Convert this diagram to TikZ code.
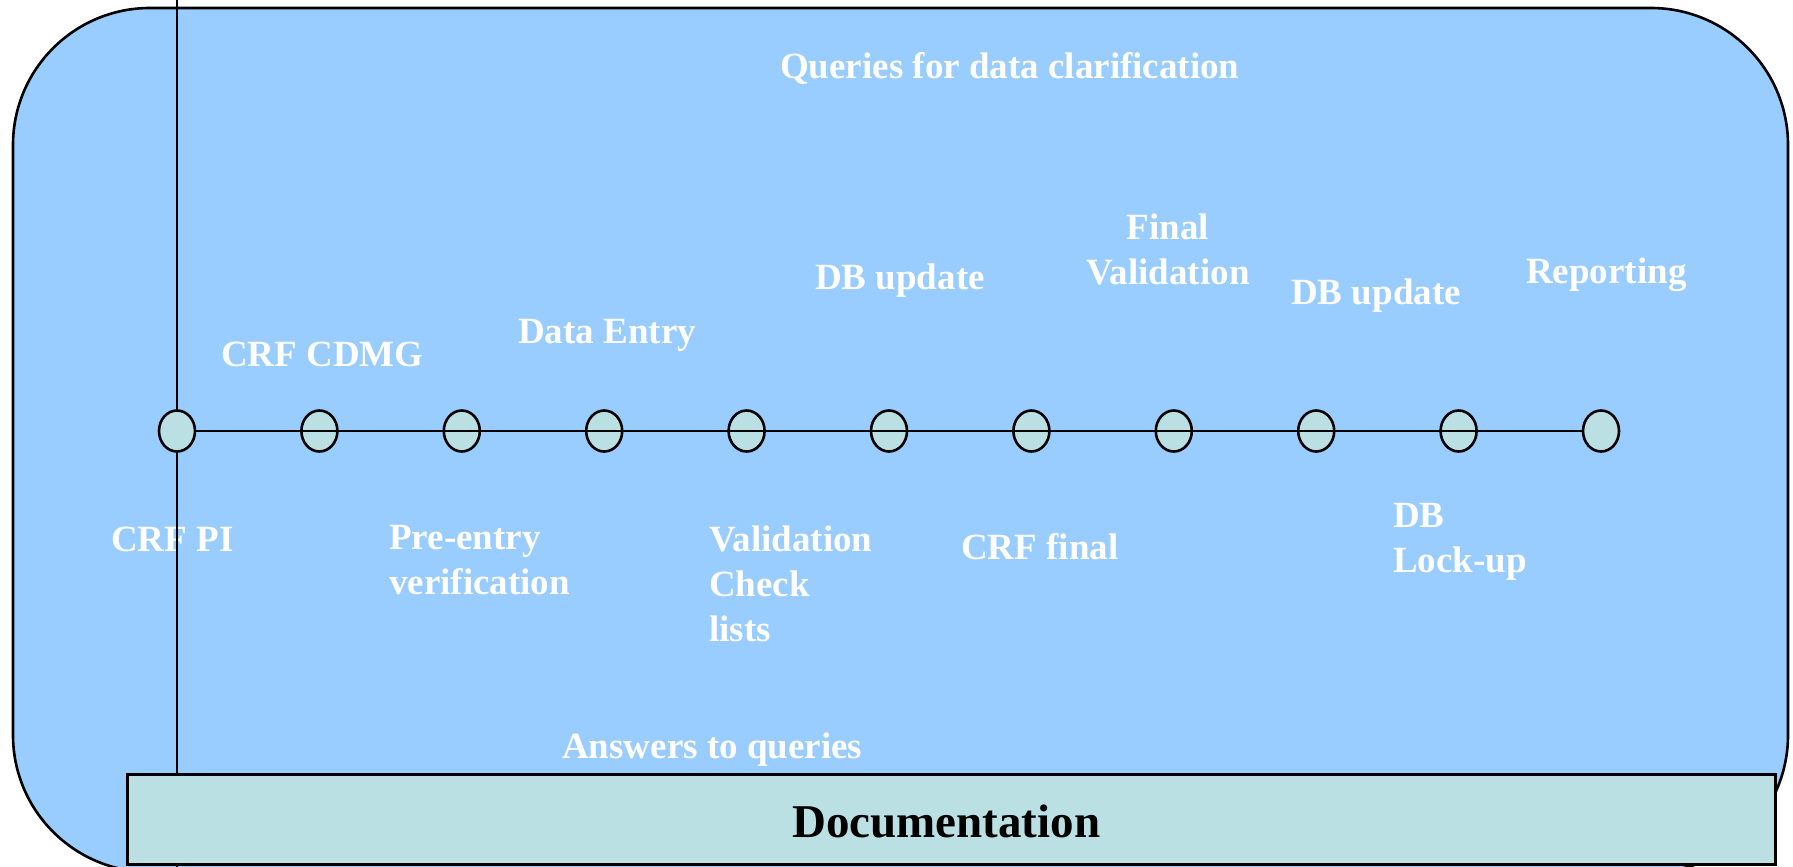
\documentclass[tikz,border=0pt]{standalone}
\usepackage{fontspec}
\setmainfont{Liberation Serif}
\usetikzlibrary{shapes.geometric}
\definecolor{panelblue}{HTML}{99CCFF}
\definecolor{stagefill}{HTML}{BBE0E3}

\begin{document}
\begin{tikzpicture}[x=1pt,y=-1pt,
  stage/.style={ellipse, draw=black, line width=2.6pt, fill=stagefill,
                minimum width=36pt, minimum height=41pt, inner sep=0pt},
  lbl/.style={text=white, font=\fontsize{37}{45}\selectfont\bfseries,
              inner sep=0pt, align=left},
  clbl/.style={lbl, align=center},
  wire/.style={line width=2.6pt, draw=black}]
\useasboundingbox (0,0) rectangle (1793,867);
\fill[white] (0,0) rectangle (1793,867);

% rounded panel
\draw[fill=panelblue, line width=2.6pt, rounded corners=137pt] (13,8) rectangle (1788,872);

% labels above and below the time line (multi-line labels sit on their last baseline)
\node[lbl, anchor=base west] (q)  at (780,78)  {Queries for data clarification};
\node[lbl, anchor=base west] (l1) at (221,366) {CRF CDMG};
\node[lbl, anchor=base west] (l2) at (518,343) {Data Entry};
\node[lbl, anchor=base west] (l3) at (815,289) {DB update};
\node[clbl, anchor=base]     (l4) at (1168,284) {Final\\Validation};
\node[lbl, anchor=base west] (l5) at (1291,304) {DB update};
\node[lbl, anchor=base west] (l6) at (1526,283) {Reporting};
\node[lbl, anchor=base west] (b1) at (111,551) {CRF PI};
\node[lbl, anchor=base west] (b2) at (389,594) {Pre-entry\\verification};
\node[lbl, anchor=base west] (b3) at (709,641) {Validation\\Check\\lists};
\node[lbl, anchor=base west] (b4) at (961,559) {CRF final};
\node[lbl, anchor=base west] (b5) at (1393,572) {DB\\Lock-up};
\node[lbl, anchor=base west] (ans) at (562,758) {Answers to queries};

% vertical axis
\coordinate (vtop) at (177,0);
\coordinate (vbot) at (177,867);
\draw[wire] (vtop) -- (vbot);

% stages
\foreach \i in {1,...,11}
  \node[stage] (c\i) at ({177+142.4*(\i-1)},431) {};
\draw[wire] (c1.east) -- (c11.west);

% documentation bar
\node[draw=black, line width=2.6pt, fill=stagefill, anchor=north west,
      minimum width=1648pt, minimum height=90pt, inner sep=0pt] (doc) at (126,773) {};
\node[anchor=base west, inner sep=0pt, font=\fontsize{47}{56}\selectfont\bfseries]
  (doct) at (792,837) {Documentation};
\end{tikzpicture}
\end{document}
